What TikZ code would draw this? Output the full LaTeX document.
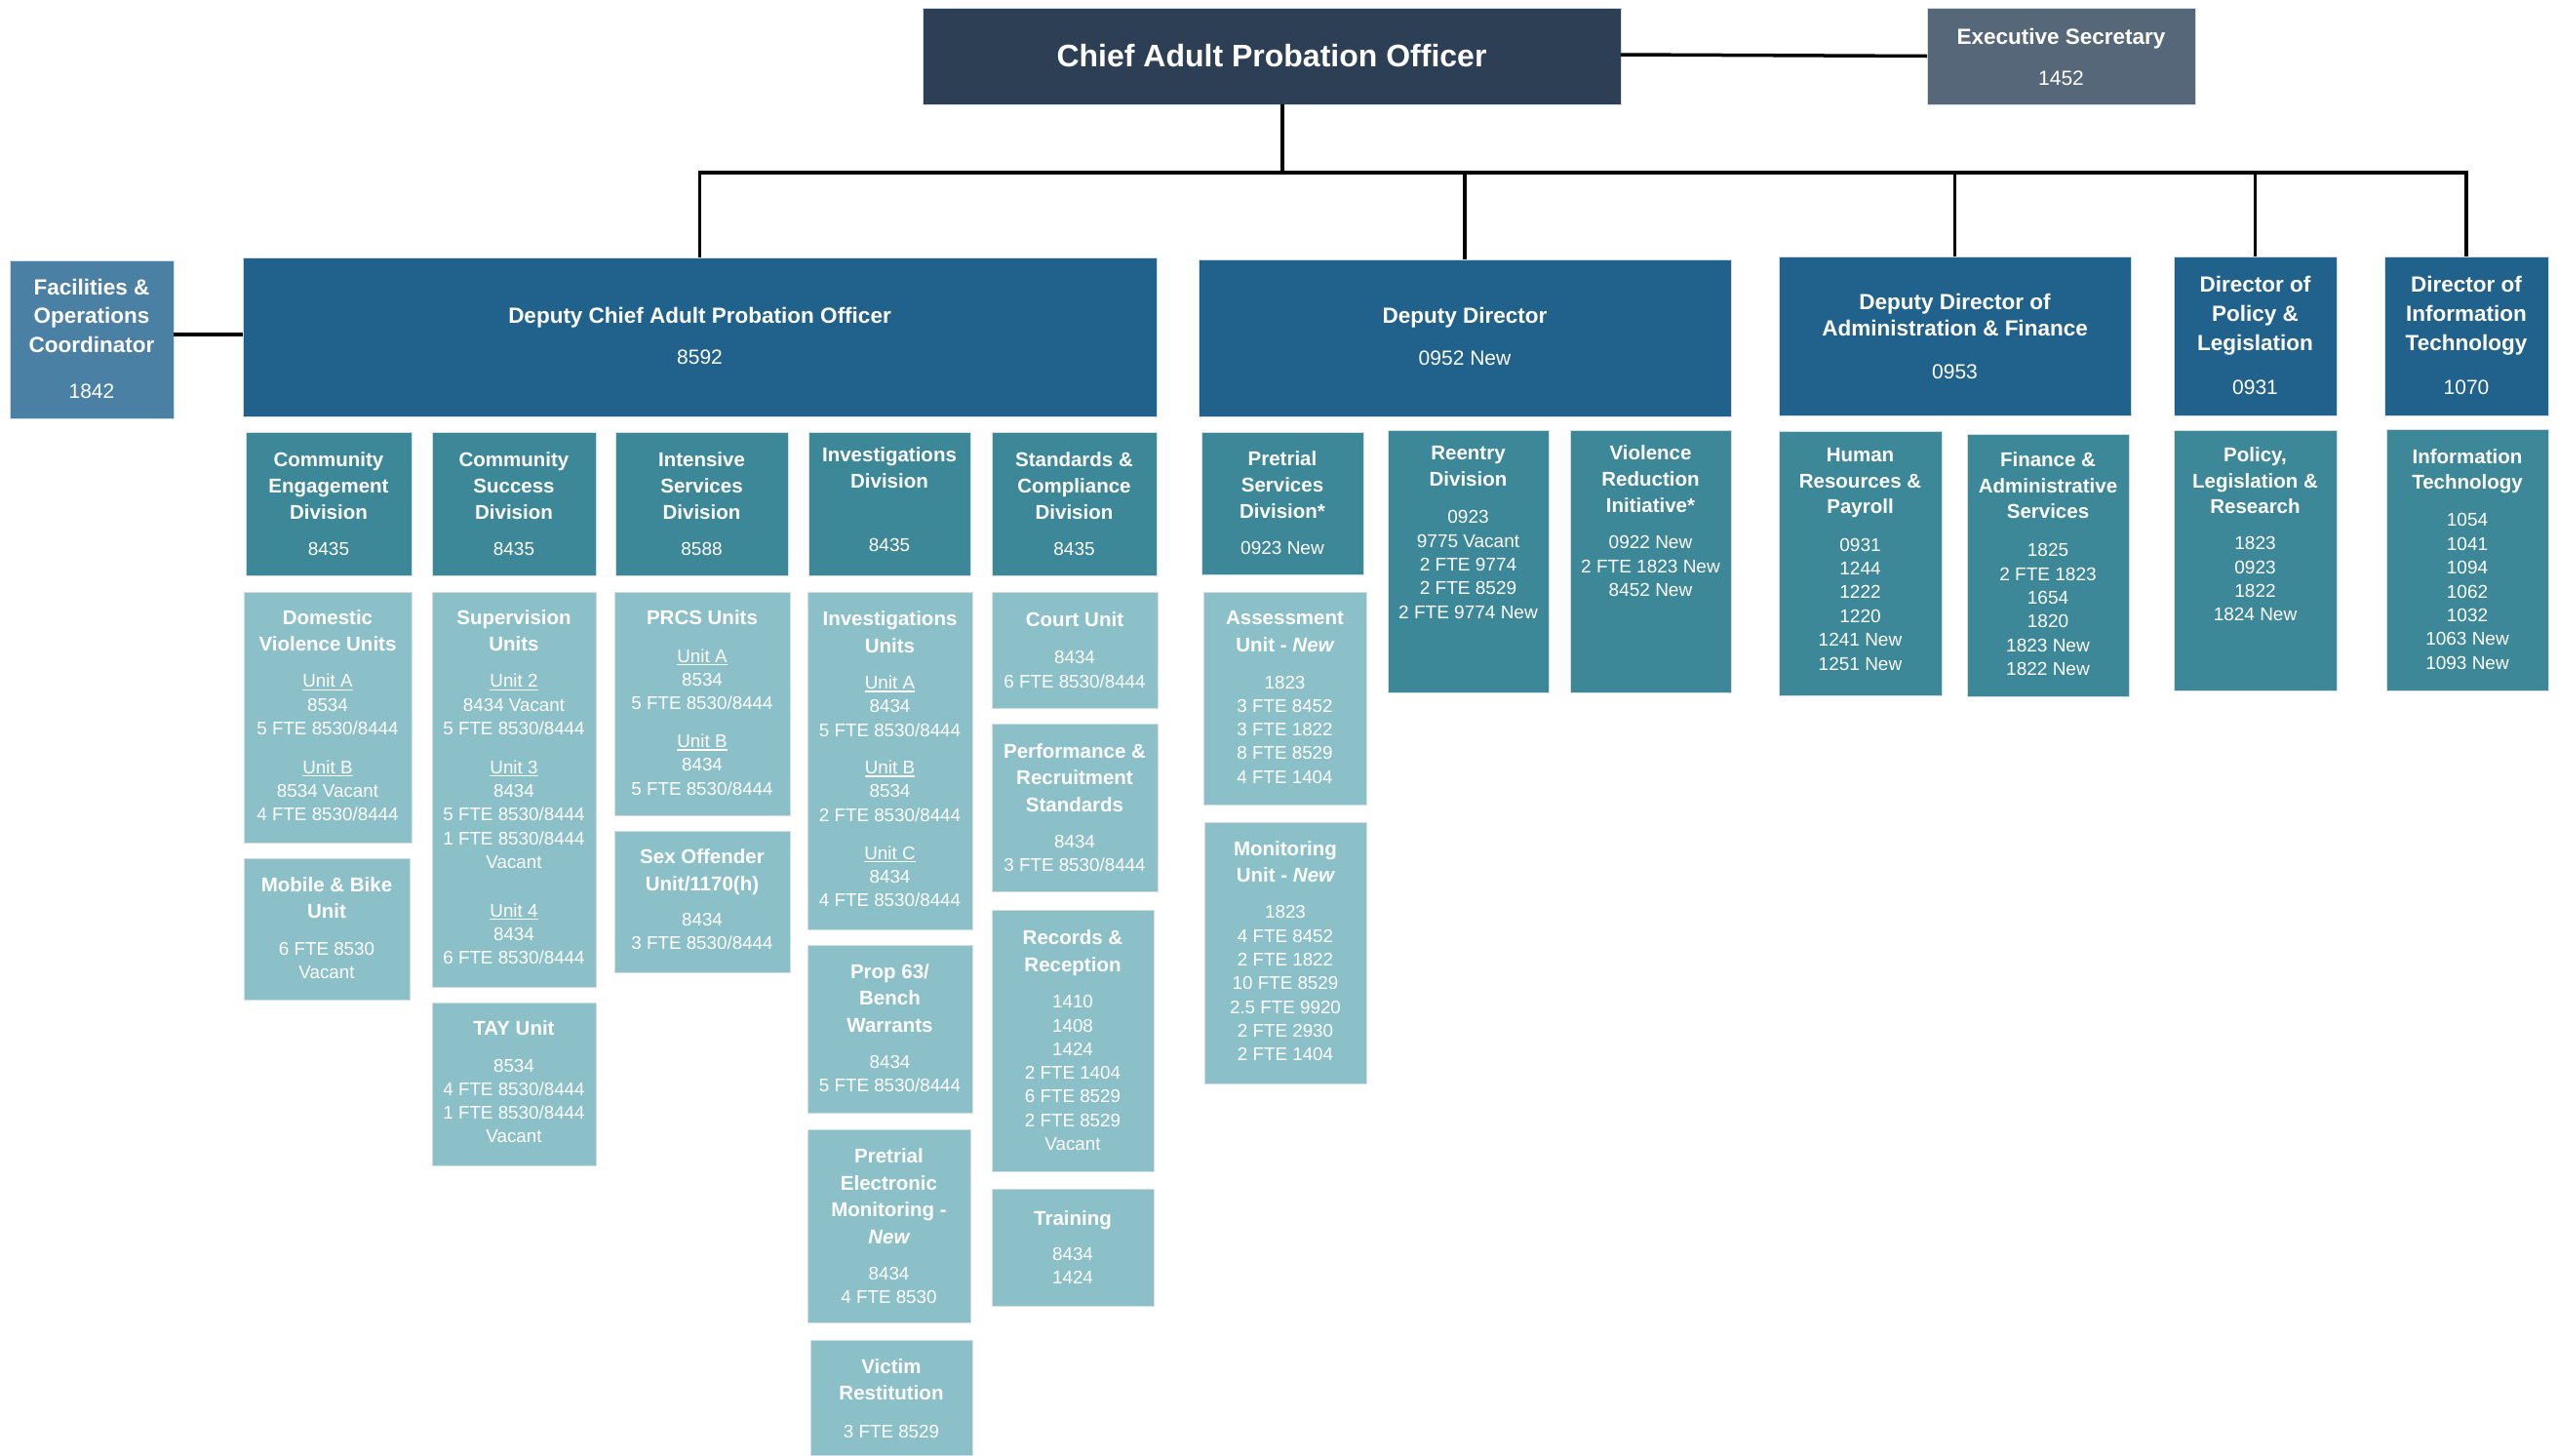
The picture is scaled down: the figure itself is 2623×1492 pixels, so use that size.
\documentclass[tikz,border=0pt]{standalone}
\usepackage{fontspec}
\setmainfont{Liberation Sans}
\definecolor{cChief}{HTML}{2C3F55}
\definecolor{cExec}{HTML}{566779}
\definecolor{cFac}{HTML}{4B80A5}
\definecolor{cDep}{HTML}{21628C}
\definecolor{cDiv}{HTML}{3C8798}
\definecolor{cUnit}{HTML}{8BC0C8}
\definecolor{cEdge}{HTML}{D3DEE4}
\newcommand\Cln[1]{\hbox to\hsize{\hss#1\hss}}
\newcommand\Ttl[1]{\baselineskip=\Tsk\relax\Cln{\Tf #1}}
\newcommand\Dat[1]{\baselineskip=\Dsk\relax\Cln{\Df #1}}
\newcommand\Gap[1]{\vskip#1pt\relax}
\newcommand\Und[1]{\setbox0=\hbox{#1}\rlap{\vrule width\wd0 height-1.8pt depth3.1pt}\box0}
\newcommand\LvA{\def\Tf{\fontsize{22.5}{22.5}\selectfont\bfseries}\def\Df{\fontsize{21}{21}\selectfont}\def\Tsk{29.5pt}\def\Dsk{24pt}}
\newcommand\LvB{\def\Tf{\fontsize{20.5}{20.5}\selectfont\bfseries}\def\Df{\fontsize{19}{19}\selectfont}\def\Tsk{26.8pt}\def\Dsk{24.4pt}}
\newcommand\LvC{\def\Tf{\fontsize{20.5}{20.5}\selectfont\bfseries}\def\Df{\fontsize{18.8}{18.8}\selectfont}\def\Tsk{27.5pt}\def\Dsk{24.3pt}}
\tikzset{
  bx/.style={draw=cEdge,line width=1pt,inner sep=0pt,outer sep=0pt,anchor=north west},
  txt/.style={inner sep=0pt,outer sep=0pt,anchor=base,text=white},
  conn/.style={draw=black,line width=3.5pt}
}
\newcommand\Bx[6]{\node[bx,fill=#6,minimum width={(#4-#2)*1pt},minimum height={(#5-#3)*1pt}] (#1) at (#2,#3) {};}
\newcommand\Tx[4]{\node[txt] (#1-t) at (#1.north |- 0,#2) {\vtop{\hsize=400pt #3#4}};}
\begin{document}
\begin{tikzpicture}[x=1pt,y=-1pt]
\fill[white] (0,0) rectangle (2623,1492);
\useasboundingbox (0,0) rectangle (2623,1492);
% ---- top level
\Bx{chief}{946}{8}{1662}{107}{cChief}
\Bx{exec}{1976}{8}{2251}{107}{cExec}
\Bx{fac}{10}{267}{178}{429}{cFac}
\Bx{dcapo}{249}{264}{1186}{427}{cDep}
\Bx{dd}{1229}{266}{1775}{427}{cDep}
\Bx{dda}{1824}{263}{2185}{426}{cDep}
\Bx{dpl}{2229}{263}{2396}{426}{cDep}
\Bx{dit}{2445}{263}{2613}{426}{cDep}
\node[txt] (chief-t) at (chief.north |- 0,68) {\fontsize{32}{32}\selectfont\bfseries Chief Adult Probation Officer};
\Tx{exec}{45}{\LvA}{\Ttl{Executive Secretary}\Gap{18}\Dat{1452}}
\Tx{fac}{302}{\LvA}{\Ttl{Facilities \&}\Ttl{Operations}\Ttl{Coordinator}\Gap{23}\Dat{1842}}
\Tx{dcapo}{331}{\LvA}{\Ttl{Deputy Chief Adult Probation Officer}\Gap{18}\Dat{8592}}
\Tx{dd}{331}{\LvA}{\Ttl{Deputy Director}\Gap{19}\Dat{0952 New}}
\Tx{dda}{317.6}{\LvA\def\Tsk{26.8pt}}{\Ttl{Deputy Director of}\Ttl{Administration \& Finance}\Gap{20}\Dat{0953}}
\Tx{dpl}{299}{\LvA\def\Tsk{30pt}}{\Ttl{Director of}\Ttl{Policy \&}\Ttl{Legislation}\Gap{21}\Dat{0931}}
\Tx{dit}{299}{\LvA\def\Tsk{30pt}}{\Ttl{Director of}\Ttl{Information}\Ttl{Technology}\Gap{21}\Dat{1070}}
% ---- divisions
\Bx{ced}{252}{443}{422}{590}{cDiv}
\Bx{csd}{443}{443}{611}{590}{cDiv}
\Bx{isd}{631}{443}{808}{590}{cDiv}
\Bx{invd}{829}{443}{995}{590}{cDiv}
\Bx{scd}{1017}{443}{1186}{590}{cDiv}
\Bx{psd}{1232}{443}{1398}{589}{cDiv}
\Bx{red}{1423}{441}{1588}{710}{cDiv}
\Bx{vri}{1610}{441}{1775}{710}{cDiv}
\Bx{hrp}{1824}{442}{1991}{713}{cDiv}
\Bx{fas}{2017}{445}{2183}{714}{cDiv}
\Bx{plr}{2229}{441}{2396}{708}{cDiv}
\Bx{itd}{2447}{440}{2613}{708}{cDiv}
\Tx{ced}{478.4}{\LvB}{\Ttl{Community}\Ttl{Engagement}\Ttl{Division}\Gap{13}\Dat{8435}}
\Tx{csd}{478.4}{\LvB}{\Ttl{Community}\Ttl{Success}\Ttl{Division}\Gap{13}\Dat{8435}}
\Tx{isd}{478.4}{\LvB}{\Ttl{Intensive}\Ttl{Services}\Ttl{Division}\Gap{13}\Dat{8588}}
\Tx{invd}{473.8}{\LvB}{\Ttl{Investigations}\Ttl{Division}\Gap{40.3}\Dat{8435}}
\Tx{scd}{478.4}{\LvB}{\Ttl{Standards \&}\Ttl{Compliance}\Ttl{Division}\Gap{13}\Dat{8435}}
\Tx{psd}{477.6}{\LvB}{\Ttl{Pretrial}\Ttl{Services}\Ttl{Division*}\Gap{13}\Dat{0923 New}}
\Tx{red}{471.7}{\LvB}{\Ttl{Reentry}\Ttl{Division}\Gap{13.7}\Dat{0923}\Dat{9775 Vacant}\Dat{2 FTE 9774}\Dat{2 FTE 8529}\Dat{2 FTE 9774 New}}
\Tx{vri}{471.7}{\LvB}{\Ttl{Violence}\Ttl{Reduction}\Ttl{Initiative*}\Gap{13}\Dat{0922 New}\Dat{2 FTE 1823 New}\Dat{8452 New}}
\Tx{hrp}{473.3}{\LvB}{\Ttl{Human}\Ttl{Resources \&}\Ttl{Payroll}\Gap{13.7}\Dat{0931}\Dat{1244}\Dat{1222}\Dat{1220}\Dat{1241 New}\Dat{1251 New}}
\Tx{fas}{478.3}{\LvB}{\Ttl{Finance \&}\Ttl{Administrative}\Ttl{Services}\Gap{14.4}\Dat{1825}\Dat{2 FTE 1823}\Dat{1654}\Dat{1820}\Dat{1823 New}\Dat{1822 New}}
\Tx{plr}{473.3}{\LvB}{\Ttl{Policy,}\Ttl{Legislation \&}\Ttl{Research}\Gap{12.4}\Dat{1823}\Dat{0923}\Dat{1822}\Dat{1824 New}}
\Tx{itd}{475}{\LvB}{\Ttl{Information}\Ttl{Technology}\Gap{13.7}\Dat{1054}\Dat{1041}\Dat{1094}\Dat{1062}\Dat{1032}\Dat{1063 New}\Dat{1093 New}}
% ---- units
\Bx{dvu}{250}{607}{422}{864}{cUnit}
\Bx{mbu}{250}{880}{420}{1025}{cUnit}
\Bx{svu}{443}{607}{611}{1012}{cUnit}
\Bx{tay}{443}{1028}{611}{1195}{cUnit}
\Bx{prcs}{630}{607}{810}{836}{cUnit}
\Bx{sou}{630}{852}{810}{997}{cUnit}
\Bx{ivu}{828}{607}{997}{953}{cUnit}
\Bx{p63}{828}{969}{997}{1141}{cUnit}
\Bx{pem}{828}{1158}{995}{1356}{cUnit}
\Bx{vr}{831}{1374}{997}{1492}{cUnit}
\Bx{cou}{1017}{607}{1187}{726}{cUnit}
\Bx{prs}{1017}{742}{1187}{914}{cUnit}
\Bx{rr}{1017}{933}{1183}{1201}{cUnit}
\Bx{trn}{1017}{1219}{1183}{1339}{cUnit}
\Bx{asu}{1234}{607}{1401}{825}{cUnit}
\Bx{mon}{1235}{843}{1401}{1111}{cUnit}
\Tx{dvu}{640.2}{\LvC}{\Ttl{Domestic}\Ttl{Violence Units}\Gap{12.9}\Dat{\Und{Unit A}}\Dat{8534}\Dat{5 FTE 8530/8444}\Gap{15.3}\Dat{\Und{Unit B}}\Dat{8534 Vacant}\Dat{4 FTE 8530/8444}}
\Tx{mbu}{914.2}{\LvC}{\Ttl{Mobile \& Bike}\Ttl{Unit}\Gap{13}\Dat{6 FTE 8530}\Dat{Vacant}}
\Tx{svu}{640.2}{\LvC}{\Ttl{Supervision}\Ttl{Units}\Gap{12.9}\Dat{\Und{Unit 2}}\Dat{8434 Vacant}\Dat{5 FTE 8530/8444}\Gap{15.3}\Dat{\Und{Unit 3}}\Dat{8434}\Dat{5 FTE 8530/8444}\Dat{1 FTE 8530/8444}\Dat{Vacant}\Gap{25.4}\Dat{\Und{Unit 4}}\Dat{8434}\Dat{6 FTE 8530/8444}}
\Tx{tay}{1061.7}{\LvC}{\Ttl{TAY Unit}\Gap{13}\Dat{8534}\Dat{4 FTE 8530/8444}\Dat{1 FTE 8530/8444}\Dat{Vacant}}
\Tx{prcs}{640.2}{\LvC}{\Ttl{PRCS Units}\Gap{14.5}\Dat{\Und{Unit A}}\Dat{8534}\Dat{5 FTE 8530/8444}\Gap{14.5}\Dat{\Und{Unit B}}\Dat{8434}\Dat{5 FTE 8530/8444}}
\Tx{sou}{885.8}{\LvC}{\Ttl{Sex Offender}\Ttl{Unit/1170(h)}\Gap{12}\Dat{8434}\Dat{3 FTE 8530/8444}}
\Tx{ivu}{641.7}{\LvC}{\Ttl{Investigations}\Ttl{Units}\Gap{13}\Dat{\Und{Unit A}}\Dat{8434}\Dat{5 FTE 8530/8444}\Gap{14.2}\Dat{\Und{Unit B}}\Dat{8534}\Dat{2 FTE 8530/8444}\Gap{14.7}\Dat{\Und{Unit C}}\Dat{8434}\Dat{4 FTE 8530/8444}}
\Tx{p63}{1003.3}{\LvC}{\Ttl{Prop 63/}\Ttl{Bench}\Ttl{Warrants}\Gap{12.4}\Dat{8434}\Dat{5 FTE 8530/8444}}
\Tx{pem}{1192.8}{\LvC}{\Ttl{Pretrial}\Ttl{Electronic}\Ttl{Monitoring -}\Ttl{\itshape New}\Gap{12.4}\Dat{8434}\Dat{4 FTE 8530}}
\Tx{vr}{1408}{\LvC}{\Ttl{Victim}\Ttl{Restitution}\Gap{14.2}\Dat{3 FTE 8529}}
\Tx{cou}{642.8}{\LvC}{\Ttl{Court Unit}\Gap{13.6}\Dat{8434}\Dat{6 FTE 8530/8444}}
\Tx{prs}{777}{\LvC}{\Ttl{Performance \&}\Ttl{Recruitment}\Ttl{Standards}\Gap{12.7}\Dat{8434}\Dat{3 FTE 8530/8444}}
\Tx{rr}{968.9}{\LvC}{\Ttl{Records \&}\Ttl{Reception}\Gap{13}\Dat{1410}\Dat{1408}\Dat{1424}\Dat{2 FTE 1404}\Dat{6 FTE 8529}\Dat{2 FTE 8529}\Dat{Vacant}}
\Tx{trn}{1256}{\LvC}{\Ttl{Training}\Gap{11.7}\Dat{8434}\Dat{1424}}
\Tx{asu}{640.5}{\LvC}{\Ttl{Assessment}\Ttl{Unit - \itshape New}\Gap{13.7}\Dat{1823}\Dat{3 FTE 8452}\Dat{3 FTE 1822}\Dat{8 FTE 8529}\Dat{4 FTE 1404}}
\Tx{mon}{877}{\LvC}{\Ttl{Monitoring}\Ttl{Unit - \itshape New}\Gap{13.1}\Dat{1823}\Dat{4 FTE 8452}\Dat{2 FTE 1822}\Dat{10 FTE 8529}\Dat{2.5 FTE 9920}\Dat{2 FTE 2930}\Dat{2 FTE 1404}}
% ---- connectors
\coordinate (bus) at (0,177);
\draw[conn] (dcapo.north) |- (dit.north |- bus) -- (dit.north);
\draw[conn] ([xshift=11pt]chief.south) -- ([xshift=11pt]chief.south |- bus);
\draw[conn] (dd.north) -- (dd.north |- bus);
\draw[conn] (dda.north) -- (dda.north |- bus);
\draw[conn] (dpl.north) -- (dpl.north |- bus);
\draw[conn] ([yshift=1.5pt]chief.east) -- (exec.west);
\draw[conn] ([yshift=5pt]fac.east) -- ([yshift=5pt]fac.east -| dcapo.west);
\end{tikzpicture}
\end{document}
